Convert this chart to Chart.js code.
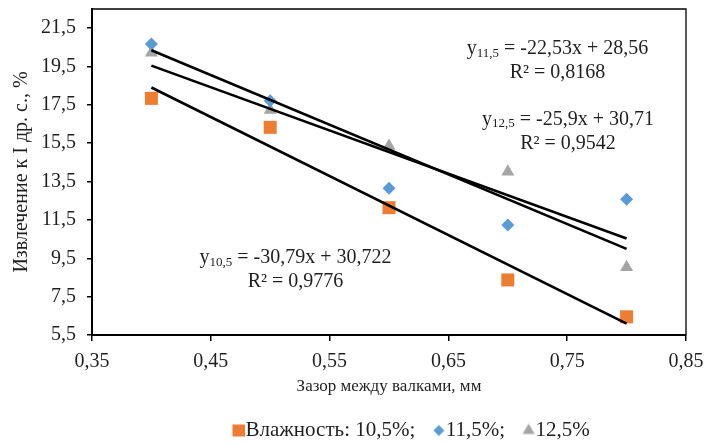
<!DOCTYPE html>
<html>
<head>
<meta charset="utf-8">
<script src="https://cdn.jsdelivr.net/npm/chart.js@4.4.1/dist/chart.umd.min.js"></script>
<style>
  html, body { margin: 0; padding: 0; background: #ffffff; }
  #wrap { width: 704px; height: 445px; }
</style>
</head>
<body>
<div id="wrap"><canvas id="chart" width="704" height="445"></canvas></div>
<script>
// Roll gap, mm
const gapMm = [0.4, 0.5, 0.6, 0.7, 0.8];
// Grain moisture of each series, %
const moistureLabels = ['10,5', '11,5', '12,5'];
// Extraction to the 1st break system, %
const extract105 = [17.84, 16.33, 12.14, 8.37, 6.45];
const extract115 = [20.67, 17.72, 13.15, 11.24, 12.58];
const extract125 = [20.22, 17.23, 15.35, 14.01, 9.03];
// Linear trend lines y = k*x + b and their R²
const trendSlope = [-30.79, -22.53, -25.9];
const trendIntercept = [30.722, 28.56, 30.71];
const trendR2 = [0.9776, 0.8168, 0.9542];
// Axis ticks
const xTickValues = [0.35, 0.45, 0.55, 0.65, 0.75, 0.85];
const xTickLabels = ['0,35', '0,45', '0,55', '0,65', '0,75', '0,85'];
const yTickValues = [5.5, 7.5, 9.5, 11.5, 13.5, 15.5, 17.5, 19.5, 21.5];
const yTickLabels = ['5,5', '7,5', '9,5', '11,5', '13,5', '15,5', '17,5', '19,5', '21,5'];

const SERIF = '"Liberation Serif", "Times New Roman", serif';
const TEXT = '#1f1f1f';
const COLORS = ['#ED7D31', '#5B9BD5', '#A5A5A5'];
const STYLES = ['rect', 'rectRot', 'triangle'];
const RADII = [9.2, 6.5, 7.5];
const LEGEND_RADII = [8.5, 5.5, 7];

// Where each equation block sits (axis units of its first line)
const eqPlacement = [
  { x: 0.5213, y: 9.51 },
  { x: 0.7418, y: 20.41 },
  { x: 0.7507, y: 16.71 }
];
const EQ_LINE_GAP = 24;
const LEGEND_X = 234;

const fmt = n => String(n).replace('.', ',');
const series = [extract105, extract115, extract125];

const pointSets = series.map((vals, i) => ({
  label: (i === 0 ? 'Влажность: ' : '') + moistureLabels[i] + '%' + (i < 2 ? ';' : ''),
  data: gapMm.map((g, j) => ({ x: g, y: vals[j] })),
  showLine: false,
  pointStyle: STYLES[i],
  pointRadius: RADII[i],
  pointHoverRadius: RADII[i],
  pointBackgroundColor: COLORS[i],
  pointBorderWidth: 0,
  borderColor: COLORS[i],
  backgroundColor: COLORS[i],
  order: 2
}));

const xFrom = Math.min(...gapMm), xTo = Math.max(...gapMm);
const trendSets = trendSlope.map((k, i) => ({
  label: 'trend ' + moistureLabels[i],
  data: [xFrom, xTo].map(g => ({ x: g, y: k * g + trendIntercept[i] })),
  showLine: true,
  borderColor: '#000000',
  borderWidth: 2.6,
  pointRadius: 0,
  pointHoverRadius: 0,
  fill: false,
  order: 1
}));

// Small legend swatch; the marker sits right of the canvas centre so it hugs the text
function markerCanvas(style, radius, color) {
  const c = document.createElement('canvas');
  c.width = 20; c.height = 20;
  const cx = c.getContext('2d');
  cx.fillStyle = color;
  cx.strokeStyle = color;
  Chart.helpers.drawPoint(cx, { pointStyle: style, radius: radius, borderWidth: 0 }, 14, 10);
  return c;
}

const framePlugin = {
  id: 'frame',
  beforeDatasetsDraw(chart) {
    const { ctx, chartArea: a } = chart;
    ctx.save();
    ctx.strokeStyle = '#000000';
    ctx.lineWidth = 1.3;
    ctx.beginPath();
    ctx.moveTo(a.left, a.top);
    ctx.lineTo(a.right, a.top);
    ctx.lineTo(a.right, a.bottom);
    ctx.stroke();
    ctx.restore();
  }
};

const equationPlugin = {
  id: 'equations',
  afterDatasetsDraw(chart) {
    const { ctx, scales: { x, y } } = chart;
    const mainFont = '20px ' + SERIF;
    const subFont = '13px ' + SERIF;
    ctx.save();
    ctx.fillStyle = TEXT;
    ctx.textBaseline = 'middle';
    trendSlope.forEach((k, i) => {
      const cx = x.getPixelForValue(eqPlacement[i].x);
      const cy = y.getPixelForValue(eqPlacement[i].y);
      const head = 'y';
      const sub = moistureLabels[i];
      const rest = ' = ' + fmt(k) + 'x + ' + fmt(trendIntercept[i]);
      ctx.font = mainFont;
      const wHead = ctx.measureText(head).width;
      const wRest = ctx.measureText(rest).width;
      ctx.font = subFont;
      const wSub = ctx.measureText(sub).width;
      let sx = cx - (wHead + wSub + wRest) / 2;
      ctx.textAlign = 'left';
      ctx.font = mainFont;
      ctx.fillText(head, sx, cy);
      sx += wHead;
      ctx.font = subFont;
      ctx.fillText(sub, sx, cy + 4);
      sx += wSub;
      ctx.font = mainFont;
      ctx.fillText(rest, sx, cy);
      ctx.textAlign = 'center';
      ctx.fillText('R² = ' + fmt(trendR2[i]), cx, cy + EQ_LINE_GAP);
    });
    ctx.restore();
  }
};

const legendPlacePlugin = {
  id: 'legendPlace',
  afterLayout(chart) {
    const lg = chart.legend;
    const pad = lg.options.labels.padding;
    lg.left = LEGEND_X - pad;
    lg.right = chart.width;
  }
};

new Chart(document.getElementById('chart'), {
  type: 'scatter',
  data: { datasets: [...pointSets, ...trendSets] },
  plugins: [framePlugin, equationPlugin, legendPlacePlugin],
  options: {
    responsive: false,
    devicePixelRatio: 1,
    animation: false,
    events: [],
    layout: { autoPadding: false, padding: { left: 0, right: 18, top: 9, bottom: 0 } },
    scales: {
      x: {
        type: 'linear',
        position: 'bottom',
        min: 0.35,
        max: 0.85,
        afterBuildTicks: s => { s.ticks = xTickValues.map(v => ({ value: v })); },
        afterFit: s => { s.height = 66; s.paddingLeft = 0; s.paddingRight = 0; },
        ticks: {
          callback: v => xTickLabels[xTickValues.indexOf(v)],
          font: { family: SERIF, size: 20 },
          color: TEXT,
          padding: 9,
          maxRotation: 0,
          autoSkip: false
        },
        grid: { drawOnChartArea: false, drawTicks: true, tickLength: 6, color: '#000000', lineWidth: 1.5 },
        border: { display: true, color: '#000000', width: 2 },
        title: {
          display: true,
          text: 'Зазор между валками, мм',
          font: { family: SERIF, size: 17 },
          color: TEXT,
          padding: { top: 8, bottom: 4 }
        }
      },
      y: {
        type: 'linear',
        min: 5.5,
        max: 22.5,
        afterBuildTicks: s => { s.ticks = yTickValues.map(v => ({ value: v })); },
        afterFit: s => { s.width = 92; s.paddingTop = 0; s.paddingBottom = 0; },
        ticks: {
          callback: v => yTickLabels[yTickValues.indexOf(v)],
          font: { family: SERIF, size: 20 },
          color: TEXT,
          padding: 11,
          autoSkip: false
        },
        grid: { drawOnChartArea: false, drawTicks: true, tickLength: 5, color: '#000000', lineWidth: 1.5 },
        border: { display: true, color: '#000000', width: 2 },
        title: {
          display: true,
          text: 'Извлечение к I др. с., %',
          font: { family: SERIF, size: 20 },
          color: TEXT,
          padding: { top: 10, bottom: 0 }
        }
      }
    },
    plugins: {
      tooltip: { enabled: false },
      legend: {
        position: 'bottom',
        align: 'start',
        maxHeight: 44,
        labels: {
          usePointStyle: true,
          boxWidth: 1,
          boxHeight: 12,
          padding: 19,
          color: TEXT,
          font: { family: SERIF, size: 21 },
          filter: item => item.datasetIndex < 3,
          generateLabels: chart => {
            const items = Chart.defaults.plugins.legend.labels.generateLabels(chart);
            items.forEach(it => {
              const i = it.datasetIndex;
              if (i < 3) it.pointStyle = markerCanvas(STYLES[i], LEGEND_RADII[i], COLORS[i]);
            });
            return items;
          }
        }
      }
    }
  }
});
</script>
</body>
</html>
